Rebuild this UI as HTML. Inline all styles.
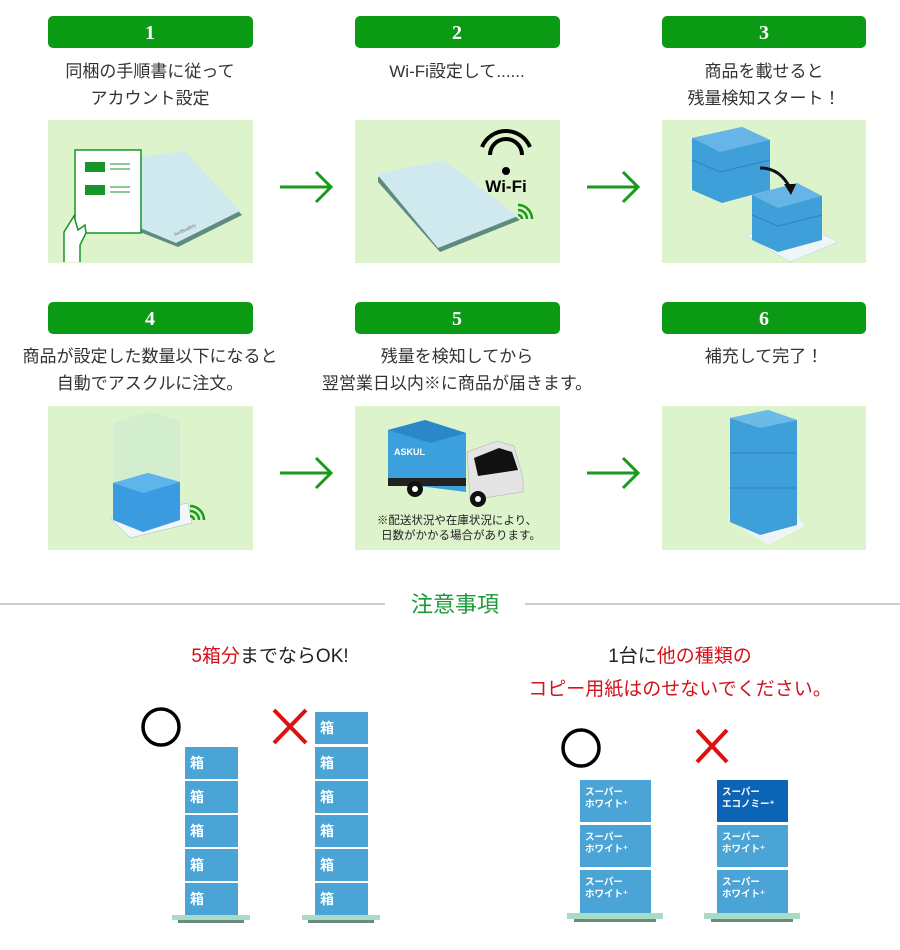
<!DOCTYPE html>
<html><head><meta charset="utf-8">
<style>
html,body{margin:0;padding:0;background:#fff;width:900px;height:950px;overflow:hidden}
svg{display:block}
.t{font-family:"Liberation Sans","Noto Sans CJK JP",sans-serif;fill:#333;font-size:17px}
.n{font-family:"Liberation Serif","DejaVu Serif",serif;font-weight:bold;fill:#fff;font-size:20px}
.bx{font-family:"Liberation Sans","Noto Sans CJK JP",sans-serif;fill:#fff;font-weight:bold}
</style></head><body>
<svg width="900" height="950" viewBox="0 0 900 950" xmlns="http://www.w3.org/2000/svg">
<defs>
<g id="arrow"><line x1="0" y1="0" x2="50" y2="0" stroke="#1a9a1a" stroke-width="3"/><polyline points="36,-15 51,0 36,15" fill="none" stroke="#1a9a1a" stroke-width="3"/></g>
<g id="wave"><path d="M0,-4 A4,4 0 0 1 4,0" fill="none" stroke="#1a9a1a" stroke-width="2.5"/><path d="M0,-9 A9,9 0 0 1 9,0" fill="none" stroke="#1a9a1a" stroke-width="2.5"/><path d="M0,-14 A14,14 0 0 1 14,0" fill="none" stroke="#1a9a1a" stroke-width="2.5"/></g>
</defs>

<rect x="48" y="16" width="205" height="32" rx="5" fill="#0b9a13"/><text class="n" x="150" y="39" text-anchor="middle">1</text>
<rect x="355" y="16" width="205" height="32" rx="5" fill="#0b9a13"/><text class="n" x="457" y="39" text-anchor="middle">2</text>
<rect x="662" y="16" width="204" height="32" rx="5" fill="#0b9a13"/><text class="n" x="764" y="39" text-anchor="middle">3</text>
<rect x="48" y="302" width="205" height="32" rx="5" fill="#0b9a13"/><text class="n" x="150" y="325" text-anchor="middle">4</text>
<rect x="355" y="302" width="205" height="32" rx="5" fill="#0b9a13"/><text class="n" x="457" y="325" text-anchor="middle">5</text>
<rect x="662" y="302" width="204" height="32" rx="5" fill="#0b9a13"/><text class="n" x="764" y="325" text-anchor="middle">6</text>

<text class="t" x="150" y="77" text-anchor="middle">同梱の手順書に従って</text>
<text class="t" x="150" y="104" text-anchor="middle">アカウント設定</text>
<text class="t" x="457" y="77" text-anchor="middle">Wi-Fi設定して......</text>
<text class="t" x="764" y="77" text-anchor="middle">商品を載せると</text>
<text class="t" x="764" y="104" text-anchor="middle">残量検知スタート！</text>
<text class="t" x="150" y="362" text-anchor="middle">商品が設定した数量以下になると</text>
<text class="t" x="150" y="389" text-anchor="middle">自動でアスクルに注文。</text>
<text class="t" x="457" y="362" text-anchor="middle">残量を検知してから</text>
<text class="t" x="457" y="389" text-anchor="middle">翌営業日以内※に商品が届きます。</text>
<text class="t" x="764" y="362" text-anchor="middle">補充して完了！</text>

<rect x="48" y="120" width="205" height="143" fill="#dcf3cc"/>
<rect x="355" y="120" width="205" height="143" fill="#dcf3cc"/>
<rect x="662" y="120" width="204" height="143" fill="#dcf3cc"/>
<rect x="48" y="406" width="205" height="144" fill="#dcf3cc"/>
<rect x="355" y="406" width="205" height="144" fill="#dcf3cc"/>
<rect x="662" y="406" width="204" height="144" fill="#dcf3cc"/>

<use href="#arrow" x="280" y="187"/>
<use href="#arrow" x="587" y="187"/>
<use href="#arrow" x="280" y="473"/>
<use href="#arrow" x="587" y="473"/>

<!-- panel 1 -->
<polygon points="140,160 185,154 242,215 178,247 140,232" fill="#5f8a80"/>
<polygon points="140,157 185,151 240,211 176,243 140,228" fill="#cfe9ef"/>
<text x="175" y="236" font-size="5" fill="#667" transform="rotate(-25 175 236)">fuel&amp;safety</text>
<rect x="75" y="150" width="66" height="83" fill="#fff" stroke="#17952a" stroke-width="1.5"/>
<rect x="85" y="162" width="20" height="10" fill="#17952a"/>
<line x1="110" y1="164" x2="130" y2="164" stroke="#17952a"/><line x1="110" y1="169" x2="130" y2="169" stroke="#17952a"/>
<rect x="85" y="185" width="20" height="10" fill="#17952a"/>
<line x1="110" y1="187" x2="130" y2="187" stroke="#17952a"/><line x1="110" y1="192" x2="130" y2="192" stroke="#17952a"/>
<path d="M64,262 L64,232 L74,216 L78,230 L85,225 L86,233 L80,245 L80,262" fill="#fff" stroke="#17952a" stroke-width="1.5"/>

<!-- panel 2 -->
<polygon points="378,177 445,163 520,220 440,252 378,182" fill="#5f8a80"/>
<polygon points="377,174 444,160 518,216 438,248" fill="#cfe9ef"/>
<path d="M482,147 A26,26 0 0 1 530,147" fill="none" stroke="#000" stroke-width="4"/>
<path d="M490,155 A16,16 0 0 1 522,155" fill="none" stroke="#000" stroke-width="4"/>
<circle cx="506" cy="171" r="4" fill="#000"/>
<text x="506" y="192" font-family="Liberation Sans,sans-serif" font-weight="bold" font-size="17" text-anchor="middle" fill="#000">Wi-Fi</text>
<use href="#wave" x="518" y="219"/>

<!-- panel 3 -->
<polygon points="745,235 800,222 838,242 790,262" fill="#eef6f8" stroke="#bcd" stroke-width="0.5"/>
<polygon points="692,138 742,127 770,140 770,190 722,203 692,190" fill="#3f9fd8"/>
<polygon points="692,138 742,127 770,140 720,152" fill="#66b5e6"/>
<line x1="692" y1="160" x2="720" y2="172" stroke="#2b86c2"/><line x1="720" y1="172" x2="770" y2="160" stroke="#2b86c2"/>
<polygon points="752,195 797,183 822,196 822,240 778,252 752,240" fill="#3f9fd8"/>
<polygon points="752,195 797,183 822,196 778,208" fill="#66b5e6"/>
<line x1="752" y1="215" x2="778" y2="226" stroke="#2b86c2"/><line x1="778" y1="226" x2="822" y2="215" stroke="#2b86c2"/>
<path d="M760,168 Q780,168 790,188" fill="none" stroke="#111" stroke-width="3"/>
<polygon points="784,184 796,184 791,195" fill="#111"/>

<!-- panel 4 -->
<polygon points="110,518 188,503 192,523 130,538" fill="#f2f6f8" stroke="#9bb" stroke-width="0.5"/>
<polygon points="113,423 148,411 180,421 180,490 143,506 113,493" fill="#cdebd0" opacity="0.6"/>
<polygon points="113,483 148,473 180,482 180,520 143,532 113,520" fill="#3a9be0"/>
<polygon points="113,483 148,473 180,482 143,493" fill="#5fb4ec"/>
<use href="#wave" x="190" y="520"/>

<!-- panel 5 truck -->
<polygon points="388,430 425,420 466,433 466,492 388,482" fill="#3ba0dc"/>
<polygon points="388,430 425,420 466,433 430,443" fill="#2a88c6"/>
<rect x="388" y="478" width="78" height="8" fill="#222"/>
<text x="394" y="455" font-family="Liberation Sans,sans-serif" font-weight="bold" font-size="9" fill="#fff">ASKUL</text>
<polygon points="467,452 497,441 514,446 523,478 523,492 470,500" fill="#e4e4e4" stroke="#aaa" stroke-width="0.5"/>
<polygon points="474,458 499,448 512,452 518,470 478,476" fill="#111"/>
<circle cx="415" cy="489" r="8" fill="#111"/><circle cx="415" cy="489" r="3" fill="#fff"/>
<circle cx="478" cy="499" r="8" fill="#111"/><circle cx="478" cy="499" r="3" fill="#fff"/>
<text class="t" x="457" y="524" text-anchor="middle" style="font-size:11.5px;fill:#222">※配送状況や在庫状況により、</text>
<text class="t" x="461" y="539" text-anchor="middle" style="font-size:11.5px;fill:#222">日数がかかる場合があります。</text>

<!-- panel 6 -->
<polygon points="727,518 795,513 805,526 768,545" fill="#eef5f8"/>
<polygon points="730,418 768,410 797,420 797,525 760,535 730,522" fill="#3f9fd8"/>
<polygon points="730,418 768,410 797,420 760,428" fill="#6cbbe6"/>
<line x1="730" y1="453" x2="797" y2="453" stroke="#2b86c2"/><line x1="730" y1="488" x2="797" y2="488" stroke="#2b86c2"/>

<line x1="0" y1="604" x2="385" y2="604" stroke="#bbb" stroke-width="1.5"/>
<line x1="525" y1="604" x2="900" y2="604" stroke="#bbb" stroke-width="1.5"/>
<text x="455" y="612" text-anchor="middle" font-family="Liberation Sans,Noto Sans CJK JP,sans-serif" font-size="22" fill="#1a9a3a">注意事項</text>

<text class="t" x="270" y="662" text-anchor="middle" style="font-size:19px;fill:#222"><tspan fill="#d4121b">5箱分</tspan>までならOK!</text>
<text class="t" x="680" y="662" text-anchor="middle" style="font-size:19px;fill:#222">1台に<tspan fill="#d4121b">他の種類の</tspan></text>
<text class="t" x="680" y="695" text-anchor="middle" style="font-size:19px;fill:#d4121b">コピー用紙はのせないでください。</text>

<circle cx="161" cy="727" r="18" fill="none" stroke="#000" stroke-width="3.5"/>
<path d="M274,710 L306,743 M306,710 L274,743" stroke="#d11" stroke-width="4"/>
<g>
<rect x="185" y="747" width="53" height="32" fill="#4aa4d6"/><text class="bx" x="190" y="768" font-size="14">箱</text>
<rect x="185" y="781" width="53" height="32" fill="#4aa4d6"/><text class="bx" x="190" y="802" font-size="14">箱</text>
<rect x="185" y="815" width="53" height="32" fill="#4aa4d6"/><text class="bx" x="190" y="836" font-size="14">箱</text>
<rect x="185" y="849" width="53" height="32" fill="#4aa4d6"/><text class="bx" x="190" y="870" font-size="14">箱</text>
<rect x="185" y="883" width="53" height="32" fill="#4aa4d6"/><text class="bx" x="190" y="904" font-size="14">箱</text>
<rect x="172" y="915" width="78" height="5" fill="#a8dcc4"/><rect x="178" y="920" width="66" height="3" fill="#6a8a80"/>
</g>
<g>
<rect x="315" y="712" width="53" height="32" fill="#4aa4d6"/><text class="bx" x="320" y="733" font-size="14">箱</text>
<rect x="315" y="747" width="53" height="32" fill="#4aa4d6"/><text class="bx" x="320" y="768" font-size="14">箱</text>
<rect x="315" y="781" width="53" height="32" fill="#4aa4d6"/><text class="bx" x="320" y="802" font-size="14">箱</text>
<rect x="315" y="815" width="53" height="32" fill="#4aa4d6"/><text class="bx" x="320" y="836" font-size="14">箱</text>
<rect x="315" y="849" width="53" height="32" fill="#4aa4d6"/><text class="bx" x="320" y="870" font-size="14">箱</text>
<rect x="315" y="883" width="53" height="32" fill="#4aa4d6"/><text class="bx" x="320" y="904" font-size="14">箱</text>
<rect x="302" y="915" width="78" height="5" fill="#a8dcc4"/><rect x="308" y="920" width="66" height="3" fill="#6a8a80"/>
</g>

<circle cx="581" cy="748" r="18" fill="none" stroke="#000" stroke-width="3.5"/>
<path d="M697,730 L727,762 M727,730 L697,762" stroke="#d11" stroke-width="4"/>
<g font-size="9.5">
<rect x="580" y="780" width="71" height="42" fill="#4aa4d6"/><text class="bx" x="585" y="795">スーパー</text><text class="bx" x="585" y="807">ホワイト⁺</text>
<rect x="580" y="825" width="71" height="42" fill="#4aa4d6"/><text class="bx" x="585" y="840">スーパー</text><text class="bx" x="585" y="852">ホワイト⁺</text>
<rect x="580" y="870" width="71" height="43" fill="#4aa4d6"/><text class="bx" x="585" y="885">スーパー</text><text class="bx" x="585" y="897">ホワイト⁺</text>
<rect x="567" y="913" width="96" height="6" fill="#a8dcc4"/><rect x="574" y="919" width="82" height="3" fill="#6a8a80"/>
<rect x="717" y="780" width="71" height="42" fill="#0b64b6"/><text class="bx" x="722" y="795">スーパー</text><text class="bx" x="722" y="807">エコノミー⁺</text>
<rect x="717" y="825" width="71" height="42" fill="#4aa4d6"/><text class="bx" x="722" y="840">スーパー</text><text class="bx" x="722" y="852">ホワイト⁺</text>
<rect x="717" y="870" width="71" height="43" fill="#4aa4d6"/><text class="bx" x="722" y="885">スーパー</text><text class="bx" x="722" y="897">ホワイト⁺</text>
<rect x="704" y="913" width="96" height="6" fill="#a8dcc4"/><rect x="711" y="919" width="82" height="3" fill="#6a8a80"/>
</g>
</svg>
</body></html>
